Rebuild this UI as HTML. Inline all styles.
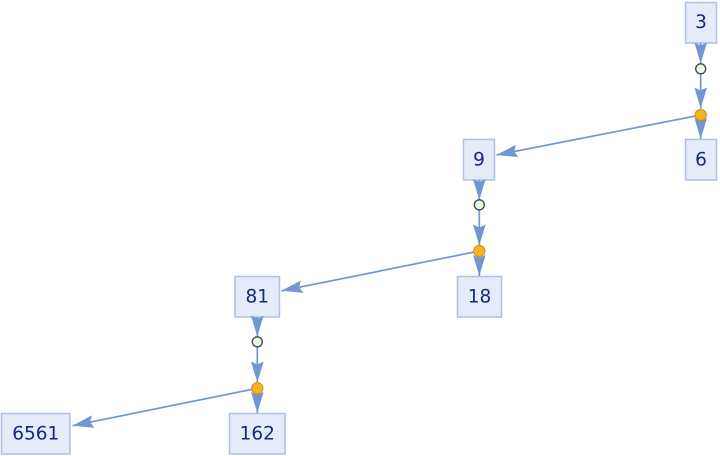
<!DOCTYPE html>
<html>
<head>
<meta charset="utf-8">
<style>
html,body{margin:0;padding:0;background:#fff;}
svg{display:block;}
text{font-family:"DejaVu Sans","Liberation Sans",sans-serif;font-size:18.5px;fill:#17297e;text-anchor:middle;dominant-baseline:central;}
.box{fill:#e5ebf9;stroke:#aebfe8;stroke-width:1.5;}
.e{stroke:#7196d0;stroke-width:1.7;fill:none;marker-end:url(#ah);}
.g{fill:#e9fbe9;stroke:#4a4f4a;stroke-width:1.4;}
.o{fill:#f6b325;stroke:#d98f05;stroke-width:1.1;}
</style>
</head>
<body>
<svg width="720" height="456" viewBox="0 0 720 456" xmlns="http://www.w3.org/2000/svg">
<defs>
<marker id="ah" markerUnits="userSpaceOnUse" viewBox="-23 -8 24 16" markerWidth="24" markerHeight="16" refX="0" refY="0" orient="auto">
<path d="M0,0 L-21,-6.3 L-18,0 L-21,6.3 Z" fill="#7196d0"/>
</marker>
</defs>

<!-- boxes -->
<rect class="box" x="685.5" y="2.5" width="31" height="40.5"/>
<text x="701" y="22.5">3</text>
<rect class="box" x="685.5" y="139.5" width="31" height="40.5"/>
<text x="701" y="160">6</text>
<rect class="box" x="463.5" y="139.5" width="31" height="40.5"/>
<text x="479" y="160">9</text>
<rect class="box" x="457.5" y="276.5" width="44" height="40.5"/>
<text x="479.5" y="297">18</text>
<rect class="box" x="235" y="276.5" width="44.5" height="40.5"/>
<text x="257.3" y="297">81</text>
<rect class="box" x="229.5" y="413.5" width="55.5" height="40.5"/>
<text x="257.3" y="434">162</text>
<rect class="box" x="1.5" y="413.5" width="68.5" height="40.5"/>
<text x="35.8" y="434">6561</text>

<!-- edges -->
<line class="e" x1="700.7" y1="43" x2="700.7" y2="63.5"/>
<line class="e" x1="700.7" y1="74" x2="700.7" y2="108.5"/>
<line class="e" x1="700.7" y1="115" x2="700.7" y2="139"/>
<line class="e" x1="700.7" y1="115" x2="496.5" y2="155"/>

<line class="e" x1="479.3" y1="180" x2="479.3" y2="200"/>
<line class="e" x1="479.3" y1="210" x2="479.3" y2="245.5"/>
<line class="e" x1="479.3" y1="251" x2="479.3" y2="276"/>
<line class="e" x1="479.3" y1="251" x2="281.5" y2="290.8"/>

<line class="e" x1="257.3" y1="317" x2="257.3" y2="336.5"/>
<line class="e" x1="257.3" y1="347" x2="257.3" y2="382.5"/>
<line class="e" x1="257.3" y1="388.3" x2="257.3" y2="413"/>
<line class="e" x1="257.3" y1="388.3" x2="72.5" y2="425.7"/>

<!-- nodes -->
<circle class="g" cx="700.7" cy="68.8" r="5"/>
<circle class="o" cx="700.7" cy="115" r="5.6"/>
<circle class="g" cx="479.3" cy="204.8" r="5"/>
<circle class="o" cx="479.3" cy="251" r="5.6"/>
<circle class="g" cx="257.3" cy="341.8" r="5"/>
<circle class="o" cx="257.3" cy="388.3" r="5.6"/>
</svg>
</body>
</html>
